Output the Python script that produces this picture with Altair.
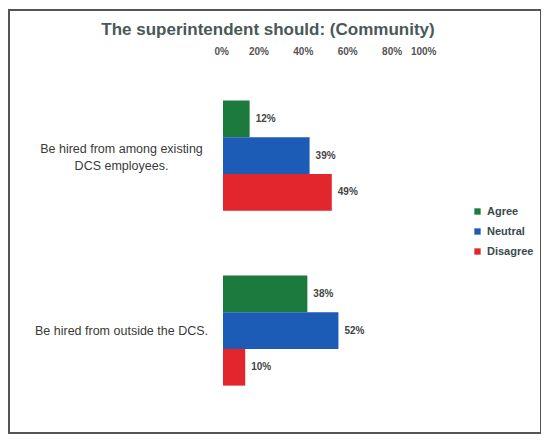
import altair as alt
import pandas as pd

questions = ["Be hired from among existing|DCS employees.", "Be hired from outside the DCS."]
responses = ["Agree", "Neutral", "Disagree"]
agree = [12, 38]
neutral = [39, 52]
disagree = [49, 10]
colors = ["#1c7a3e", "#1d5cb6", "#e3262d"]
x_ticks = [0, 20, 40, 60, 80, 100]

rows = []
for i, q in enumerate(questions):
    for r, vals in zip(responses, [agree, neutral, disagree]):
        rows.append({"question": q, "response": r, "value": vals[i], "label": f"{vals[i]}%"})
df = pd.DataFrame(rows)

y_enc = alt.Y("question:N", sort=questions, title=None,
              scale=alt.Scale(paddingInner=0.37, paddingOuter=0.185),
              axis=alt.Axis(domain=False, ticks=False, labelAlign="center", labelPadding=102,
                            labelFontSize=12.5, labelColor="#3a3a3a", labelFont="Liberation Sans",
                            labelBaseline="middle", labelLineHeight=17,
                            labelOffset={"condition": {"test": "indexof(datum.value, '|') >= 0", "value": -7},
                                         "value": 0},
                            labelExpr="split(datum.label, '|')"))
yoff = alt.YOffset("response:N", sort=responses, scale=alt.Scale(paddingInner=0, paddingOuter=0))

bars = alt.Chart(df).mark_bar().encode(
    x=alt.X("value:Q", scale=alt.Scale(domain=[0, 100]), title=None,
            axis=alt.Axis(orient="top", values=x_ticks, domain=False, ticks=False, grid=False,
                          labelExpr="datum.value + '%'", labelFont="Liberation Sans",
                          labelFontWeight="bold", labelFontSize=10, labelColor="#555555",
                          offset=10, labelPadding=2, labelOffset=-9)),
    y=y_enc,
    yOffset=yoff,
    color=alt.Color("response:N", sort=responses,
                    scale=alt.Scale(domain=responses, range=colors),
                    legend=alt.Legend(title=None, orient="none", legendX=249, legendY=138,
                                      symbolType="square", symbolSize=40, labelFontSize=11,
                                      labelFontWeight="bold", labelColor="#3a4a4a",
                                      labelFont="Liberation Sans", rowPadding=8,
                                      symbolStrokeWidth=0)),
)

text = alt.Chart(df).mark_text(align="left", baseline="middle", dx=6, fontSize=10,
                               fontWeight="bold", color="#444444", font="Liberation Sans").encode(
    x="value:Q", y=alt.Y("question:N", sort=questions), yOffset=yoff, text="label:N")

frame = alt.Chart(pd.DataFrame({"a": [0]})).mark_rect(
    fill=None, stroke="#555555", strokeWidth=2).encode(
    x=alt.value(-214), x2=alt.value(318), y=alt.value(-58), y2=alt.value(365))

chart = alt.layer(frame, bars, text).properties(
    width=222, height=350,
    title=alt.TitleParams("The superintendent should: (Community)", anchor="middle",
                          dx=-66, dy=34, fontSize=17, font="Liberation Sans", fontWeight="bold",
                          color="#4a5858", offset=4),
    autosize=alt.AutoSizeParams(type="none"),
    padding={"left": 215, "top": 60, "right": 96, "bottom": 16},
).configure_view(stroke=None)

chart.save("out.html", embed_options={"renderer": "svg", "actions": False})
